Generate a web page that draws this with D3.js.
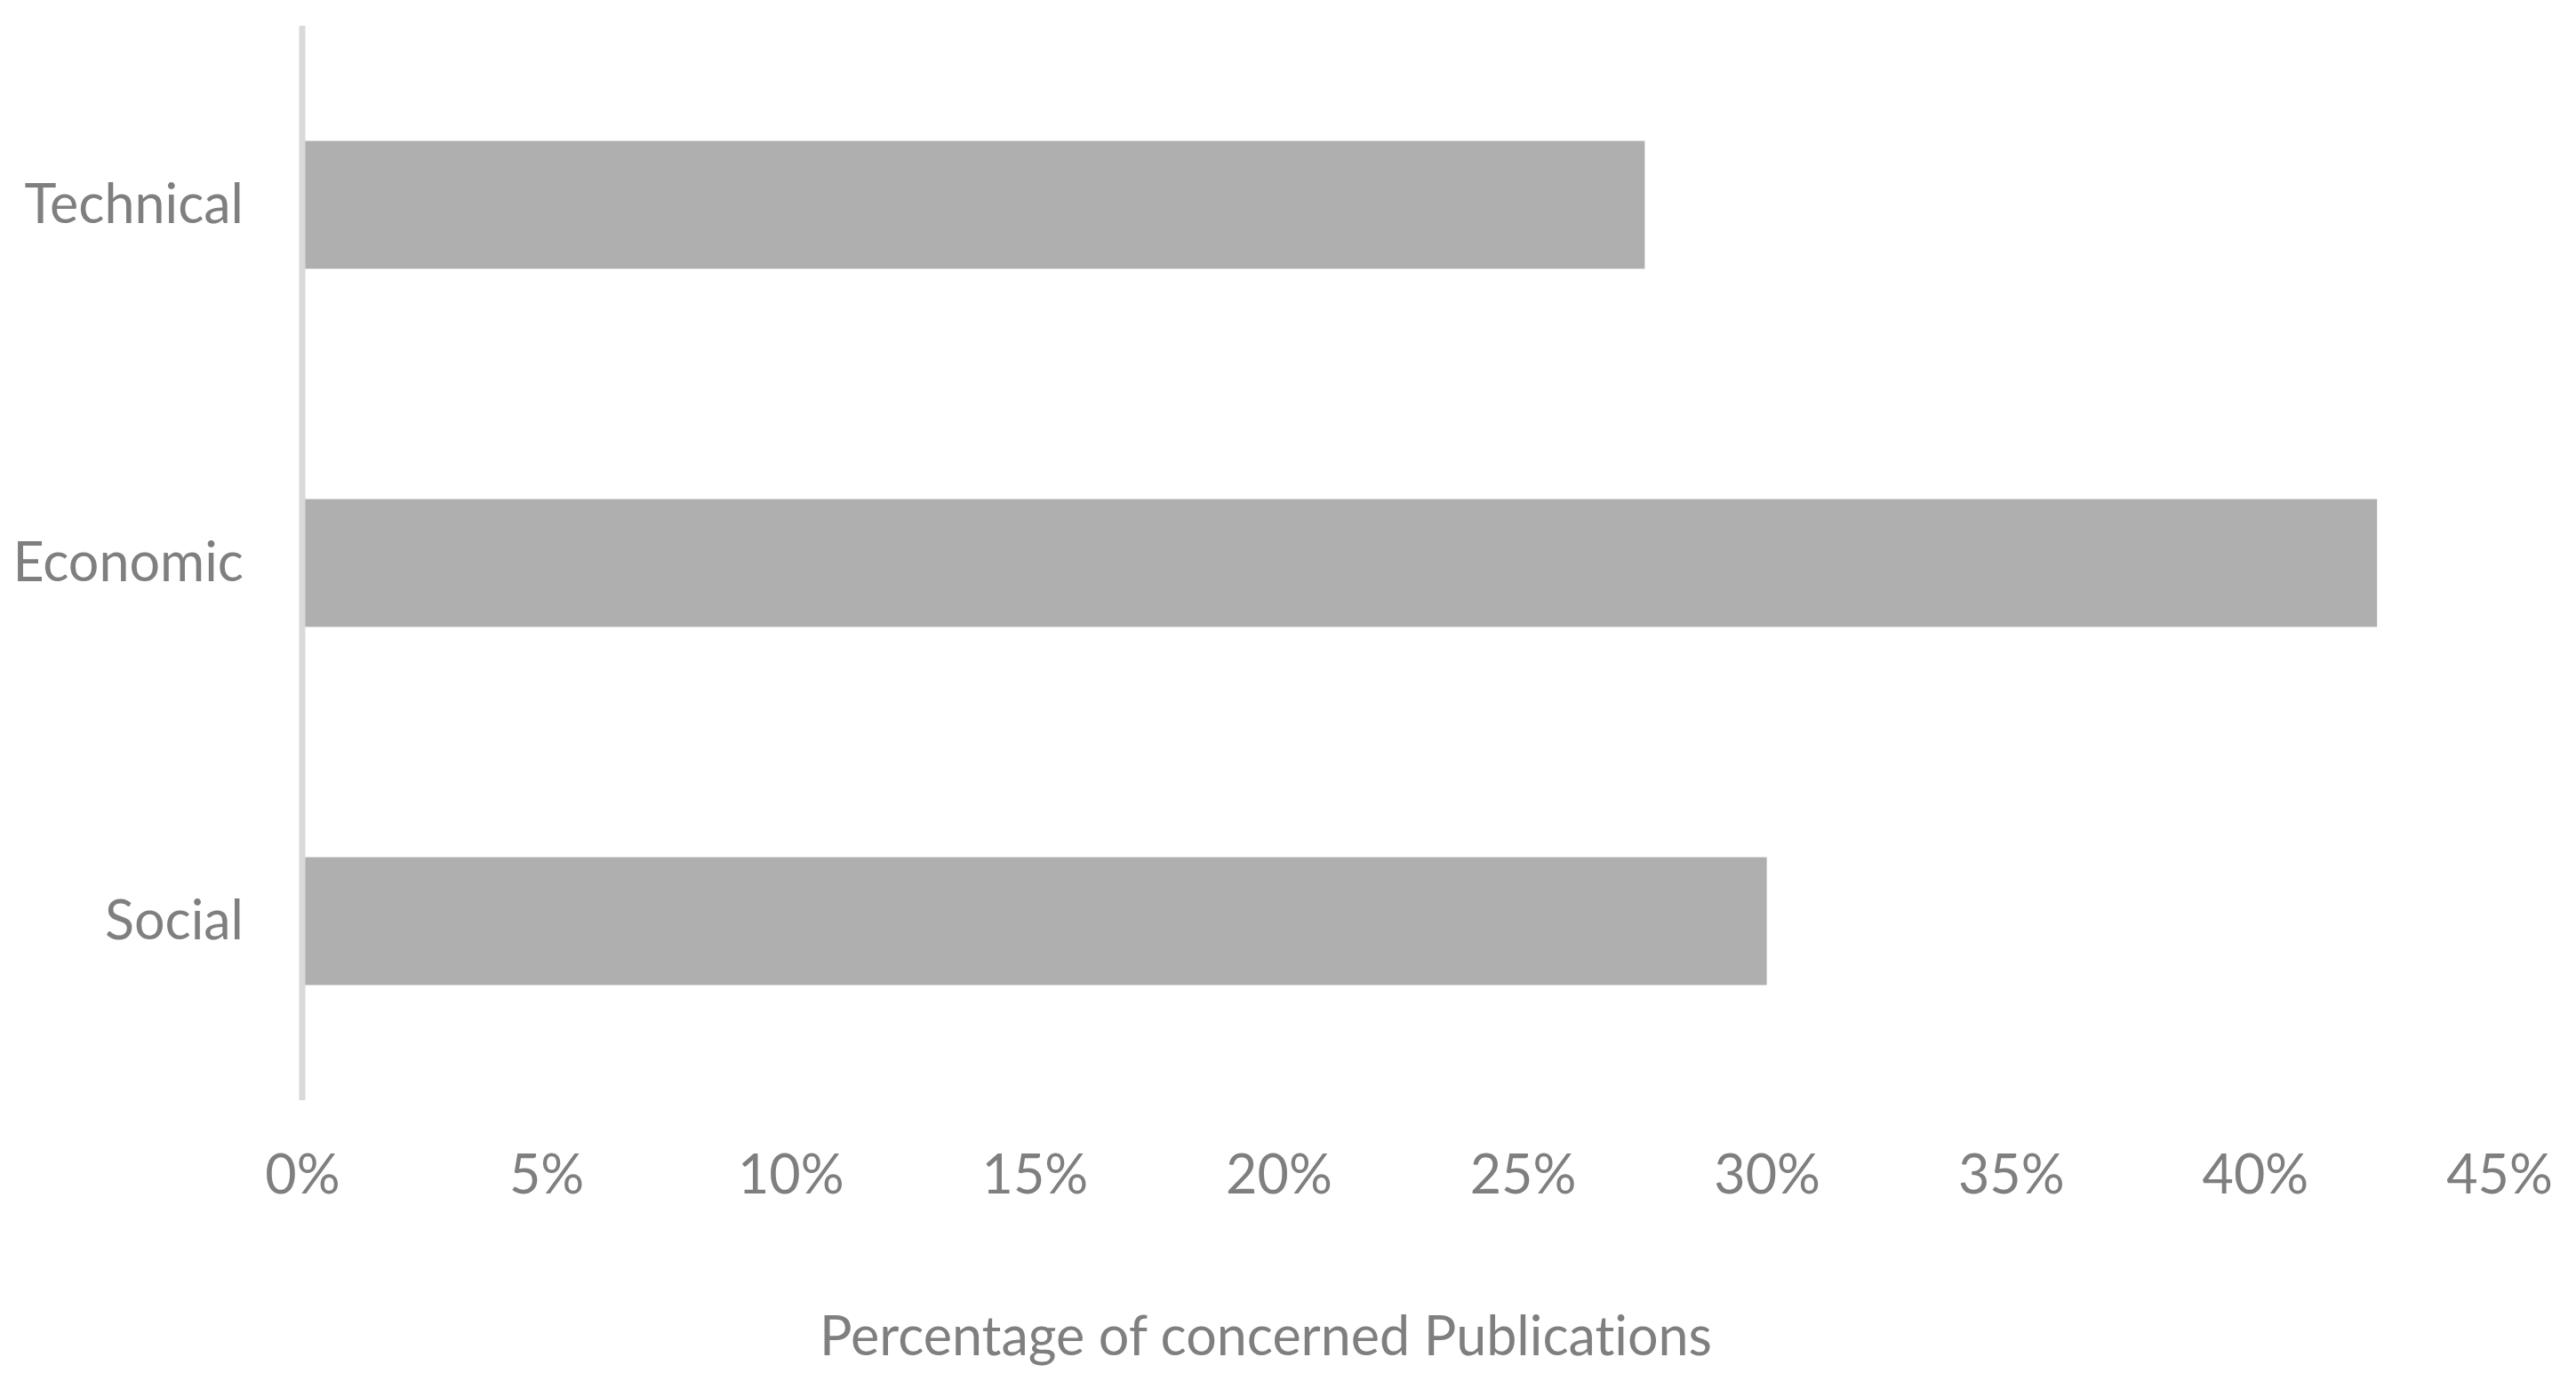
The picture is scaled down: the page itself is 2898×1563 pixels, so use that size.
<!DOCTYPE html>
<html>
<head>
<meta charset="utf-8">
<script src="https://cdn.jsdelivr.net/npm/d3@7"></script>
<style>
  html, body { margin: 0; padding: 0; background: #ffffff; }
  svg { display: block; }
  text { font-variant-ligatures: none; font-feature-settings: "liga" 0; }
</style>
</head>
<body>
<script>
const categories = ["Technical", "Economic", "Social"];
const values = [27.5, 42.5, 30.0];
const tickValues = [0, 5, 10, 15, 20, 25, 30, 35, 40, 45];
const tickLabels = ["0%", "5%", "10%", "15%", "20%", "25%", "30%", "35%", "40%", "45%"];
const axisTitle = "Percentage of concerned Publications";

(function () {
const W = 2898, H = 1563;
const mLeft = 340, mRight = 2811.5, mTop = 29, mBottom = 1238;
const font = "Lato, 'Open Sans', sans-serif";
const textColor = "#7f7f7f";
const fs = 61;

const svg = d3.select("body").append("svg").attr("width", W).attr("height", H);

const x = d3.scaleLinear().domain([0, 45]).range([mLeft, mRight]);
const y = d3.scaleBand().domain(categories).range([mTop, mBottom]).paddingInner(0.643).paddingOuter(0.3215);

svg.append("g").selectAll("rect").data(categories).join("rect")
  .attr("x", x(0) + 3)
  .attr("y", d => y(d))
  .attr("width", (d, i) => x(values[i]) - x(0) - 3)
  .attr("height", y.bandwidth())
  .attr("fill", "#afafaf");

svg.append("line")
  .attr("x1", x(0)).attr("x2", x(0))
  .attr("y1", mTop).attr("y2", mBottom)
  .attr("stroke", "#d9d9d9").attr("stroke-width", 7);

svg.append("g").selectAll("text").data(categories).join("text")
  .attr("x", 274)
  .attr("y", d => y(d) + y.bandwidth() / 2 + 20)
  .attr("text-anchor", "end")
  .attr("font-family", font).attr("font-size", fs)
  .attr("fill", textColor)
  .text(d => d);

const xAxis = d3.axisBottom(x).tickValues(tickValues).tickSize(0).tickPadding(0)
  .tickFormat((d, i) => tickLabels[i]);
const gx = svg.append("g").attr("transform", "translate(0, 1343)").call(xAxis);
gx.select(".domain").remove();
gx.selectAll("text")
  .attr("y", 0).attr("dy", 0)
  .attr("font-family", font).attr("font-size", fs)
  .attr("fill", textColor);

svg.append("text")
  .attr("x", 1424).attr("y", 1525)
  .attr("text-anchor", "middle")
  .attr("font-family", font).attr("font-size", fs)
  .attr("fill", textColor)
  .text(axisTitle);
})();
</script>
</body>
</html>
